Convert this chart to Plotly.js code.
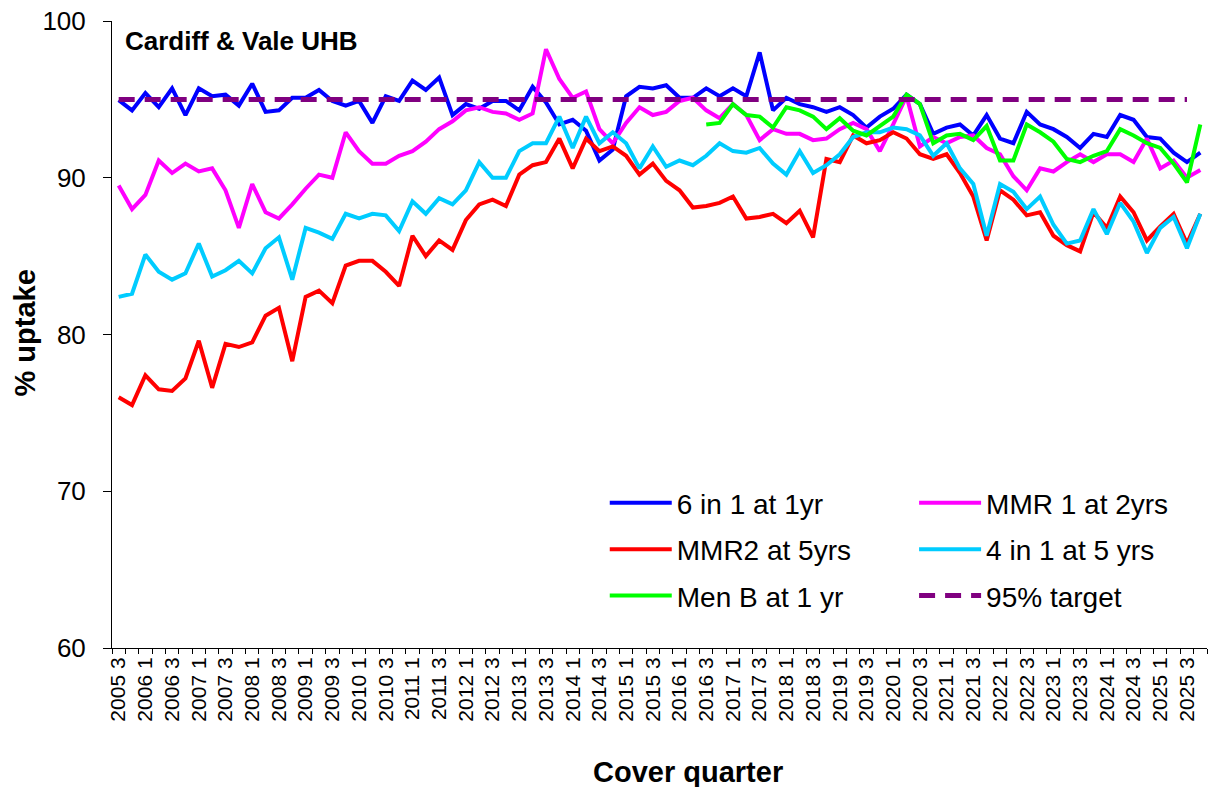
<!DOCTYPE html>
<html><head><meta charset="utf-8">
<script src="https://cdn.plot.ly/plotly-3.0.1.min.js"></script>
<style>body{margin:0;background:#fff}#chart{width:1214px;height:787px}</style>
</head><body><div id="chart"></div>
<script>
const quarters = [
 "2005 3","2005 4",
 "2006 1","2006 2","2006 3","2006 4","2007 1","2007 2","2007 3","2007 4",
 "2008 1","2008 2","2008 3","2008 4","2009 1","2009 2","2009 3","2009 4",
 "2010 1","2010 2","2010 3","2010 4","2011 1","2011 2","2011 3","2011 4",
 "2012 1","2012 2","2012 3","2012 4","2013 1","2013 2","2013 3","2013 4",
 "2014 1","2014 2","2014 3","2014 4","2015 1","2015 2","2015 3","2015 4",
 "2016 1","2016 2","2016 3","2016 4","2017 1","2017 2","2017 3","2017 4",
 "2018 1","2018 2","2018 3","2018 4","2019 1","2019 2","2019 3","2019 4",
 "2020 1","2020 2","2020 3","2020 4","2021 1","2021 2","2021 3","2021 4",
 "2022 1","2022 2","2022 3","2022 4","2023 1","2023 2","2023 3","2023 4",
 "2024 1","2024 2","2024 3","2024 4","2025 1","2025 2","2025 3","2025 4"
];

const sixInOne = [
 94.95,94.3,95.4,94.5,95.7,94.0,95.7,95.2,95.3,94.6,96.0,94.2,94.3,95.1,95.1,95.6,94.9,94.6,94.9,93.5,
 95.2,94.9,96.2,95.6,96.4,94.0,94.7,94.4,94.9,94.9,94.3,95.8,94.8,93.4,93.7,93.0,91.1,91.8,95.2,95.8,
 95.7,95.9,95.1,95.1,95.7,95.2,95.7,95.2,98.0,94.3,95.1,94.7,94.5,94.2,94.5,94.0,93.2,93.9,94.4,95.3,
 94.7,92.8,93.2,93.4,92.7,94.0,92.5,92.2,94.2,93.4,93.1,92.6,91.9,92.8,92.6,94.0,93.7,92.6,92.5,91.6,91.0,91.6
];
const mmr1 = [
 89.5,88.0,88.9,91.1,90.3,90.9,90.4,90.6,89.2,86.8,89.6,87.8,87.4,88.3,89.3,90.2,90.0,92.9,91.7,90.9,
 90.9,91.4,91.7,92.3,93.1,93.6,94.3,94.5,94.2,94.1,93.7,94.1,98.2,96.3,95.1,95.5,93.1,92.2,93.5,94.5,
 94.0,94.2,94.9,95.1,94.3,93.8,94.7,94.0,92.4,93.1,92.8,92.8,92.4,92.5,93.1,93.5,93.1,91.7,93.4,95.2,
 92.0,92.6,92.2,92.6,92.7,91.9,91.5,90.1,89.2,90.6,90.4,91.0,91.5,91.0,91.5,91.5,91.0,92.5,90.6,91.1,90.0,90.5
];
const mmr2 = [
 76.0,75.5,77.4,76.5,76.4,77.2,79.6,76.6,79.4,79.2,79.5,81.2,81.7,78.3,82.4,82.8,82.0,84.4,84.7,84.7,
 84.0,83.1,86.3,85.0,86.0,85.4,87.3,88.3,88.6,88.2,90.2,90.8,91.0,92.5,90.6,92.5,91.7,92.0,91.4,90.2,
 90.9,89.8,89.2,88.1,88.2,88.4,88.8,87.4,87.5,87.7,87.1,87.9,86.2,91.2,91.0,92.7,92.2,92.4,92.9,92.5,
 91.5,91.2,91.5,90.3,88.8,86.0,89.2,88.6,87.6,87.8,86.3,85.7,85.3,87.8,86.8,88.8,87.8,86.0,86.9,87.7,85.8,87.7
];
const fourInOne = [
 82.4,82.6,85.1,84.0,83.5,83.9,85.8,83.7,84.1,84.7,83.9,85.5,86.2,83.5,86.8,86.5,86.1,87.7,87.4,87.7,
 87.6,86.6,88.5,87.7,88.7,88.3,89.2,91.0,90.0,90.0,91.7,92.2,92.2,93.9,91.9,93.9,92.2,92.9,92.2,90.6,
 92.0,90.7,91.1,90.8,91.4,92.2,91.7,91.6,91.9,90.9,90.2,91.7,90.3,90.8,91.5,92.6,92.9,92.9,93.2,93.1,
 92.7,91.4,92.2,90.6,89.6,86.3,89.6,89.1,88.0,88.8,87.0,85.8,86.0,88.0,86.4,88.4,87.2,85.2,86.8,87.5,85.5,87.7
];
// Men B series starts at "2016 3" (index 44 of quarters)
const menBStart = 44;
const menB = [
 93.4,93.5,94.7,94.0,93.9,93.2,94.5,94.3,93.9,93.1,93.8,93.0,92.7,93.3,93.9,95.3,
 94.7,92.2,92.7,92.8,92.4,93.3,91.1,91.1,93.4,92.9,92.3,91.2,91.0,91.4,91.7,93.1,92.7,92.2,91.9,90.9,89.7,93.4
];
const targetValue = 95;
const targetCount = 81; // target line runs 2005 3 .. 2025 3

const xIdx = quarters.map((q, i) => i);
const tickIdx = xIdx.filter(i => i % 2 === 0);
const tickLabels = tickIdx.map(i => quarters[i]);

const FONT = 'Arial, "Liberation Sans", sans-serif';
const lw = 4;

const data = [
 {x: xIdx, y: sixInOne, name: '6 in 1 at 1yr', line: {color: '#0000FF', width: lw}, legend: 'legend', legendgroup: 'a'},
 {x: xIdx, y: mmr1, name: 'MMR 1 at 2yrs', line: {color: '#FF00FF', width: lw}, legend: 'legend2', legendgroup: 'd'},
 {x: xIdx, y: mmr2, name: 'MMR2 at 5yrs', line: {color: '#FF0000', width: lw}, legend: 'legend', legendgroup: 'b'},
 {x: xIdx, y: fourInOne, name: '4 in 1 at 5 yrs', line: {color: '#00CCFF', width: lw}, legend: 'legend2', legendgroup: 'e'},
 {x: xIdx.slice(menBStart), y: menB, name: 'Men B at 1 yr', line: {color: '#00FF00', width: lw}, legend: 'legend', legendgroup: 'c'},
 {x: xIdx.slice(0, targetCount), y: xIdx.slice(0, targetCount).map(() => targetValue), name: '95% target',
  line: {color: '#800080', width: 5, dash: '16px,10px'}, legend: 'legend2', legendgroup: 'f'}
].map(t => Object.assign({type: 'scatter', mode: 'lines', hoverinfo: 'skip'}, t));

const legendCommon = {
 bgcolor: 'rgba(0,0,0,0)', borderwidth: 0, font: {family: FONT, size: 28, color: '#000'},
 itemwidth: 62, tracegroupgap: 7, xanchor: 'left', yanchor: 'top', traceorder: 'grouped', itemclick: false
};

const layout = {
 width: 1214, height: 787,
 margin: {l: 112, r: 7, t: 21, b: 139},
 paper_bgcolor: '#fff', plot_bgcolor: '#fff',
 showlegend: true,
 font: {family: FONT, color: '#000'},
 xaxis: {
  range: [-0.5, quarters.length - 0.5],
  tickmode: 'array', tickvals: tickIdx, ticktext: tickLabels,
  tickangle: -90, tickfont: {size: 21, family: FONT, color: '#000'},
  ticks: '', showgrid: false, zeroline: false,
  showline: true, linecolor: '#000', linewidth: 1,
  minor: {ticks: 'outside', ticklen: 5, tickwidth: 1, tickcolor: '#000', tick0: 0.5, dtick: 1, showgrid: false},
  fixedrange: true
 },
 yaxis: {
  range: [60, 100], tickvals: [60, 70, 80, 90, 100],
  tickfont: {size: 26, family: FONT, color: '#000'},
  ticks: 'outside', ticklen: 8, tickwidth: 1, tickcolor: '#000', ticklabelstandoff: 12,
  showgrid: false, zeroline: false, showline: true, linecolor: '#000', linewidth: 1,
  fixedrange: true
 },
 legend: Object.assign({x: 0.450, y: 0.271}, legendCommon),
 legend2: Object.assign({x: 0.7325, y: 0.271}, legendCommon),
 annotations: [
  {xref: 'paper', yref: 'paper', x: (123 - 112) / 1095, y: (648 - 41) / 627, xanchor: 'left', yanchor: 'middle', showarrow: false,
   text: '<b>Cardiff & Vale UHB</b>', font: {size: 26, family: FONT, color: '#000'}},
  {xref: 'paper', yref: 'paper', x: (24 - 112) / 1095, y: (648 - 333.5) / 627, xanchor: 'center', yanchor: 'middle', showarrow: false,
   textangle: -90, text: '<b>% uptake</b>', font: {size: 29, family: FONT, color: '#000'}},
  {xref: 'paper', yref: 'paper', x: (687.5 - 112) / 1095, y: -(772 - 648) / 627, xanchor: 'center', yanchor: 'middle', showarrow: false,
   text: '<b>Cover quarter</b>', font: {size: 29, family: FONT, color: '#000'}}
 ]
};

Plotly.newPlot('chart', data, layout, {displayModeBar: false, staticPlot: true});
</script>
</body></html>
